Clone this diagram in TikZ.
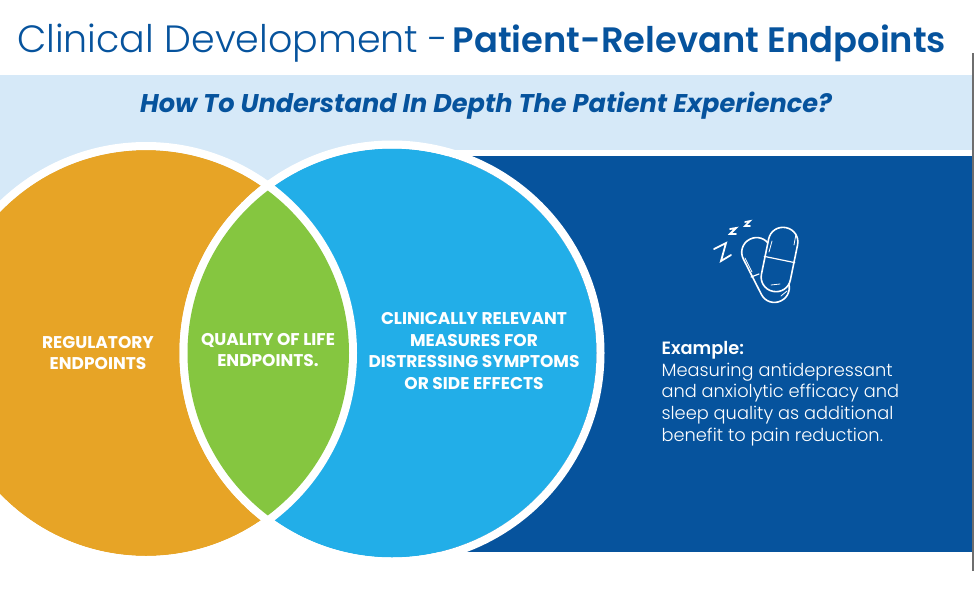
\documentclass[tikz,border=0pt]{standalone}
\usepackage{fontspec}
\usepackage{xcolor}
\setmainfont{Poppins}
\newfontfamily\lightfont{Poppins Light}
\usetikzlibrary{positioning}
\definecolor{trialnavy}{RGB}{6,83,157}
\definecolor{trialpale}{RGB}{214,233,248}
\definecolor{trialorange}{RGB}{231,164,38}
\definecolor{trialgreen}{RGB}{133,198,64}
\definecolor{trialsky}{RGB}{34,174,232}
\definecolor{trialgray}{RGB}{110,110,110}
\tikzset{
  vennlabel/.style={
    align=center, text=white, font=\fontsize{17}{21.8}\selectfont\bfseries
  },
  vennring/.style={draw=white, line width=8pt},
  capsule/.style={
    rectangle, draw=white, line width=1.6pt, fill=trialnavy,
    rounded corners=14.5pt, minimum width=29.5pt, inner sep=0pt
  },
  iconline/.style={draw=white, line width=0.8pt, line cap=round},
  sleepz/.style={draw=white, line cap=round}
}

\begin{document}
\begin{tikzpicture}[x=1pt,y=-1pt]
\useasboundingbox (0,0) rectangle (974,595);

% bands
\fill[trialpale] (0,75) rectangle (972,149.5);
\fill[trialpale] (0,149) rectangle (392,230);
\fill[trialnavy] (440,156) rectangle (972,552);
\draw[trialgray, line width=2pt] (973,53) -- (973,571);

% venn
\coordinate (leftc) at (146,353);
\coordinate (rightc) at (392,353);
\fill[trialorange] (leftc) circle[radius=203pt];
\draw[vennring] (leftc) circle[radius=207pt];
\fill[trialsky] (rightc) circle[radius=204.5pt];
\draw[vennring] (rightc) circle[radius=208.5pt];
\begin{scope}
\clip (leftc) circle[radius=211pt];
\fill[white] (rightc) circle[radius=212.5pt];
\end{scope}
\begin{scope}
\clip (leftc) circle[radius=203pt];
\fill[trialgreen] (rightc) circle[radius=204.5pt];
\end{scope}

\node[anchor=west, text=trialnavy] (title) at (13.5,43)
  {\fontsize{38}{42}\selectfont\lightfont Clinical Development -\hspace{-6pt} \fontsize{35.3}{42}\selectfont\bfseries Patient-Relevant Endpoints};
\node[text=trialnavy, font=\fontsize{25.6}{28}\selectfont\bfseries\itshape] (question) at (486,106)
  {How To Understand In Depth The Patient Experience?};

\node[vennlabel] (regulatory) at (98,353) {REGULATORY\\ENDPOINTS};
\node[vennlabel] (quality) at (268,350) {QUALITY OF LIFE\\ENDPOINTS.};
\node[vennlabel] (clinical) at (474,351) {CLINICALLY RELEVANT\\MEASURES FOR\\DISTRESSING SYMPTOMS\\OR SIDE EFFECTS};

\node[anchor=north west, align=left, text=white, font=\fontsize{17.8}{21.6}\selectfont\lightfont] (example) at (658,338)
  {\textbf{Example:}\\Measuring antidepressant\\and anxiolytic efficacy and\\sleep quality as additional\\benefit to pain reduction.};

% pill icon
\node[capsule, minimum height=69pt, rotate=27] (backpill) at (765.5,270) {};
\draw[iconline, line width=1.2pt] (751,277) -- (759,274);
\node[capsule, minimum height=65pt, rotate=-11.6] (frontpill) at (779.5,259.5) {};
\draw[iconline, line width=1.2pt] (frontpill.west) -- (frontpill.east);
\draw[iconline] (772,241) -- (769,252);
\draw[iconline] (796,234) -- (794,245);
\draw[iconline] (745,258) -- (752,272);
\draw[iconline] (771,285) -- (780,284);
\draw[iconline] (781,296) -- (787,291);
\draw[sleepz, line width=1.8pt] (714,249) -- (726,243) -- (721,261) -- (731,255);
\draw[sleepz, line width=1.8pt] (730,229) -- (736,228) -- (730,234) -- (736,234);
\draw[sleepz, line width=1.6pt] (745,222) -- (750,221) -- (745,226) -- (750,226);
\end{tikzpicture}
\end{document}
